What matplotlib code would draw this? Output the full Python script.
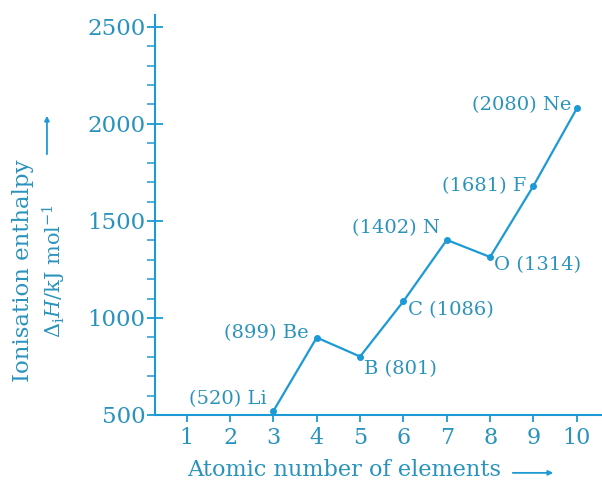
import matplotlib
matplotlib.use('Agg')

import matplotlib.pyplot as plt
from matplotlib.ticker import MultipleLocator

plt.rcParams['font.family'] = 'DejaVu Serif'
plt.rcParams['mathtext.fontset'] = 'dejavuserif'

# Data: first ionisation enthalpy of second period elements
atomic_numbers = [3, 4, 5, 6, 7, 8, 9, 10]
enthalpies = [520, 899, 801, 1086, 1402, 1314, 1681, 2080]
symbols = ['Li', 'Be', 'B', 'C', 'N', 'O', 'F', 'Ne']
x_ticks = [1, 2, 3, 4, 5, 6, 7, 8, 9, 10]
y_ticks = [500, 1000, 1500, 2000, 2500]

line_color = '#1c9ad6'
text_color = '#2a93bd'

fig = plt.figure(figsize=(6.02, 4.84), dpi=100)
ax = fig.add_axes([0.2575, 0.1426, 0.7425, 0.826])

ax.plot(atomic_numbers, enthalpies, color=line_color, lw=1.6,
        marker='o', markersize=4, clip_on=False, zorder=3)

# point labels: left side "(value) Sym", right side "Sym (value)"
left_labels = {'Li': (-5, 9), 'Be': (-6, 3), 'N': (-5, 8.5),
               'F': (-5, 0), 'Ne': (-4, 2)}
right_labels = {'B': (3, -9), 'C': (3, -6), 'O': (3, -6)}
for x, y, s in zip(atomic_numbers, enthalpies, symbols):
    if s in left_labels:
        ax.annotate(f'({y}) {s}', (x, y), xytext=left_labels[s],
                    textcoords='offset points', ha='right', va='center',
                    fontsize=14, color=text_color)
    else:
        ax.annotate(f'{s} ({y})', (x, y), xytext=right_labels[s],
                    textcoords='offset points', ha='left', va='center',
                    fontsize=14, color=text_color)

ax.set_xlim(0.27, 10.58)
ax.set_ylim(500, 2560)
ax.set_xticks(x_ticks)
ax.set_yticks(y_ticks)
ax.yaxis.set_minor_locator(MultipleLocator(100))

for side in ['top', 'right']:
    ax.spines[side].set_visible(False)
for side in ['left', 'bottom']:
    ax.spines[side].set_color(line_color)
    ax.spines[side].set_linewidth(1.5)

ax.tick_params(axis='y', which='major', direction='inout', length=12,
               width=1.3, color=line_color, labelcolor=text_color,
               labelsize=16.5, pad=1)
ax.tick_params(axis='y', which='minor', direction='out', length=6,
               width=1.1, color=line_color)
ax.tick_params(axis='x', which='major', direction='out', length=5,
               width=1.3, color=line_color, labelcolor=text_color,
               labelsize=16, pad=4)

# axis titles with arrows
fig.text(0.038, 0.44, 'Ionisation enthalpy', rotation=90, ha='center',
         va='center', fontsize=16.5, color=text_color)
fig.text(0.091, 0.44, r'$\Delta_{\rm i}H$/kJ mol$^{-1}$', rotation=90,
         ha='center', va='center', fontsize=15, color=text_color)
fig.add_artist(matplotlib.patches.FancyArrowPatch(
    (0.078, 1 - 157 / 484), (0.078, 1 - 113 / 484), transform=fig.transFigure,
    arrowstyle='-|>', mutation_scale=7, color=line_color, lw=1.3))

fig.text(0.571, 0.029, 'Atomic number of elements', ha='center',
         va='center', fontsize=16.2, color=text_color)
fig.add_artist(matplotlib.patches.FancyArrowPatch(
    (510 / 602, 0.023), (556 / 602, 0.023), transform=fig.transFigure,
    arrowstyle='-|>', mutation_scale=7, color=line_color, lw=1.3))

fig.savefig('out.png', dpi=100)
